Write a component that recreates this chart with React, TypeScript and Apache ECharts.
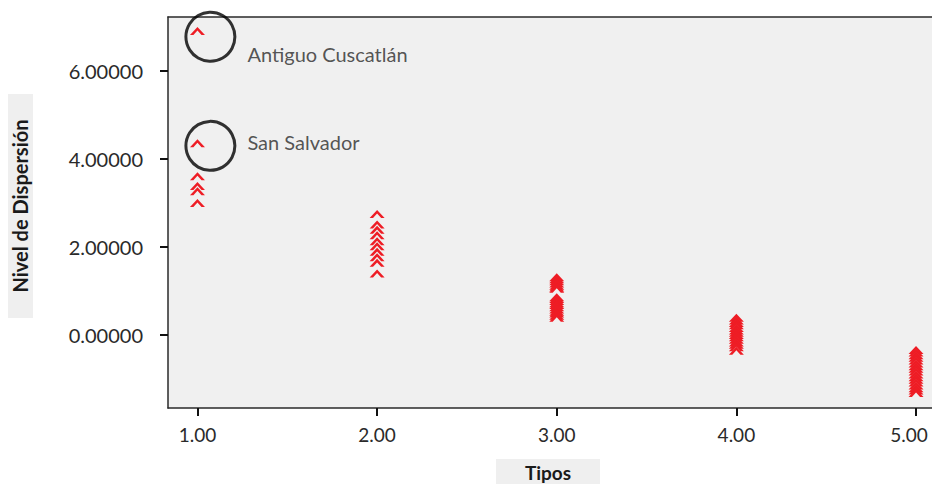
import React, { useEffect, useRef } from "react";
import * as echarts from "echarts";

// Data
const tipo1 = [6.91, 4.36, 3.61, 3.39, 3.27, 3.0];
const tipo2 = [2.75, 2.51, 2.39, 2.27, 2.13, 2.02, 1.89, 1.77, 1.64, 1.4];
const tipo3 = [1.31, 1.27, 1.22, 1.17, 1.12, 1.08, 1.05, 0.86, 0.82, 0.77, 0.72, 0.68, 0.63, 0.58, 0.53, 0.49, 0.44, 0.39];
const tipo4 = [0.39, 0.33, 0.27, 0.22, 0.16, 0.1, 0.05, 0.0, -0.05, -0.11, -0.17, -0.22, -0.28, -0.36];
const tipo5 = [-0.34, -0.4, -0.46, -0.52, -0.58, -0.65, -0.71, -0.77, -0.83, -0.9, -0.96, -1.02, -1.08, -1.15, -1.21, -1.26, -1.32];
const tipos = [1, 2, 3, 4, 5];
const xTicks = [1, 2, 3, 4, 5];
const yTicks = [0, 2, 4, 6];
const annotationNames = ["Antiguo Cuscatlán", "San Salvador"];
const annotationX = [1.072, 1.072];
const annotationY = [6.78, 4.3];
const annotationLabelOffsetY = [17, -4];

const CHEVRON = "path://M0,10 L7,0 L14,10 L10.8,10 L7,4.4 L3.2,10 Z";
const RED = "#ee1d25";
const FONT = "Lato";

export default function App() {
  const ref = useRef<HTMLDivElement>(null);
  useEffect(() => {
    if (!ref.current) return;
    const chart = echarts.init(ref.current, null, { renderer: "svg" });
    const groups = [tipo1, tipo2, tipo3, tipo4, tipo5];
    const points: number[][] = [];
    groups.forEach((g, i) => g.forEach((v) => points.push([tipos[i], v])));

    const axisLineStyle = { color: "#2a2a2a", width: 1.5 };
    const xLabelStyle = { fontFamily: FONT, fontSize: 19, color: "#2a2a2a" };
    chart.setOption({
      animation: false,
      backgroundColor: "#ffffff",
      grid: {
        left: 168,
        top: 17,
        right: 0,
        bottom: 76,
        show: true,
        backgroundColor: "#f0f0f0",
        borderWidth: 0,
        outerBoundsMode: "none",
        containLabel: false,
      },
      xAxis: [
        {
          type: "value",
          min: 0.836,
          max: 5.089,
          axisLine: { show: true, onZero: false, lineStyle: axisLineStyle },
          axisTick: { show: true, customValues: xTicks, length: 8, lineStyle: { color: "#111", width: 2 } },
          axisLabel: {
            customValues: xTicks,
            formatter: (v: number) =>
              v === xTicks[xTicks.length - 1] ? `{last|${v.toFixed(2)}}` : `{n|${v.toFixed(2)}}`,
            ...xLabelStyle,
            margin: 17,
            rich: {
              n: { ...xLabelStyle },
              last: { ...xLabelStyle, padding: [0, 14, 0, 0] },
            },
          },
          splitLine: { show: false },
        },
        {
          type: "value",
          position: "top",
          min: 0.836,
          max: 5.089,
          axisLine: { show: true, onZero: false, lineStyle: axisLineStyle },
          axisTick: { show: false },
          axisLabel: { show: false },
          splitLine: { show: false },
        },
      ],
      yAxis: {
        type: "value",
        min: -1.66,
        max: 7.23,
        axisLine: { show: true, onZero: false, lineStyle: axisLineStyle },
        axisTick: { show: true, customValues: yTicks, length: 8, lineStyle: { color: "#111", width: 2 } },
        axisLabel: {
          customValues: yTicks,
          formatter: (v: number) => v.toFixed(5),
          fontFamily: FONT,
          fontSize: 20,
          color: "#2a2a2a",
          margin: 25,
        },
        splitLine: { show: false },
      },
      series: [
        {
          type: "scatter",
          xAxisIndex: 0,
          symbol: CHEVRON,
          symbolSize: [15, 8],
          itemStyle: { color: RED, opacity: 1 },
          data: points,
          z: 3,
        },
        {
          type: "scatter",
          xAxisIndex: 0,
          symbol: "circle",
          symbolSize: 49,
          itemStyle: { color: "rgba(0,0,0,0)", borderColor: "#000", borderWidth: 3 },
          label: {
            show: true,
            position: "right",
            distance: 11,
            formatter: (p: any) => p.name,
            fontFamily: FONT,
            fontSize: 20,
            color: "#2a2a2a",
          },
          data: annotationNames.map((n, i) => ({
            name: n,
            value: [annotationX[i], annotationY[i]],
            label: { offset: [0, annotationLabelOffsetY[i]] },
          })),
          z: 4,
        },
      ],
      graphic: [
        { type: "rect", shape: { x: 8, y: 94, width: 25, height: 224 }, style: { fill: "#efefef" }, z: 0 },
        {
          type: "text",
          x: 20,
          y: 206,
          rotation: Math.PI / 2,
          style: { text: "Nivel de Dispersión", font: `bold 20px ${FONT}`, fill: "#1a1a1a", align: "center", verticalAlign: "middle" },
          z: 1,
        },
        { type: "rect", shape: { x: 496, y: 459, width: 104, height: 30 }, style: { fill: "#efefef" }, z: 0 },
        {
          type: "text",
          x: 548,
          y: 472,
          style: { text: "Tipos", font: `bold 19px ${FONT}`, fill: "#1a1a1a", align: "center", verticalAlign: "middle" },
          z: 1,
        },
      ],
    });
    return () => chart.dispose();
  }, []);
  return <div ref={ref} style={{ position: "fixed", left: 0, top: 0, width: 932, height: 484 }} />;
}
